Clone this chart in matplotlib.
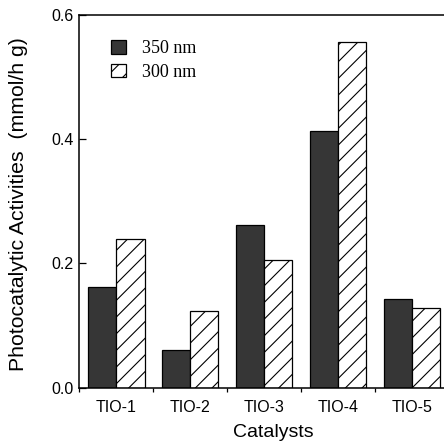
import matplotlib
matplotlib.use("Agg")
import matplotlib.pyplot as plt
import numpy as np

plt.rcParams['font.family'] = ['Liberation Sans', 'DejaVu Sans']
plt.rcParams['hatch.linewidth'] = 0.8

# data
catalysts = ['TIO-1', 'TIO-2', 'TIO-3', 'TIO-4', 'TIO-5']
act_350 = [0.162, 0.060, 0.262, 0.413, 0.143]
act_300 = [0.239, 0.124, 0.205, 0.556, 0.128]

fig = plt.figure(figsize=(4.44, 4.44), dpi=100)
# axes runs slightly past the right edge, as in the scanned figure
ax = fig.add_axes([0.179, 0.127, 0.832, 0.840])

x = np.arange(len(catalysts))
w = 0.381
ax.bar(x - w / 2, act_350, width=w, color='#363636', edgecolor='black',
       linewidth=0.9, label='350 nm')
ax.bar(x + w / 2, act_300, width=w, color='white', edgecolor='black',
       hatch='//', linewidth=0.9, label='300 nm')

ax.set_xlim(-0.478, 4.5)
ax.set_ylim(0, 0.6)
ax.set_yticks([0.0, 0.2, 0.4, 0.6])
ax.set_yticklabels(['0.0', '0.2', '0.4', '0.6'], fontsize=11.5)
ax.tick_params(axis='y', direction='in', length=5, width=0.9, pad=4)

# category labels centred, tick marks on the group boundaries
ax.set_xticks(x)
ax.set_xticklabels(catalysts, fontsize=11.5)
ax.tick_params(axis='x', length=0, pad=9)
ax.set_xticks(np.arange(-0.5, len(catalysts)), minor=True)
ax.tick_params(axis='x', which='minor', direction='out', length=3, width=0.9)

for s in ['left', 'bottom', 'top']:
    ax.spines[s].set_linewidth(1.1)
ax.spines['right'].set_visible(False)

ax.set_xlabel('Catalysts', fontsize=14)
ax.xaxis.set_label_coords(0.524, -0.098)
ax.set_ylabel('Photocatalytic Activities  (mmol/h g)', fontsize=15.3)
ax.yaxis.set_label_coords(-0.139, 0.491)

ax.legend(loc='upper left', bbox_to_anchor=(0.085, 0.932), frameon=False,
          borderpad=0, borderaxespad=0, handlelength=0.85, handleheight=0.8,
          handletextpad=0.9, labelspacing=0.35,
          prop={'family': 'Liberation Serif', 'size': 13})

fig.savefig('out.png', dpi=100)
